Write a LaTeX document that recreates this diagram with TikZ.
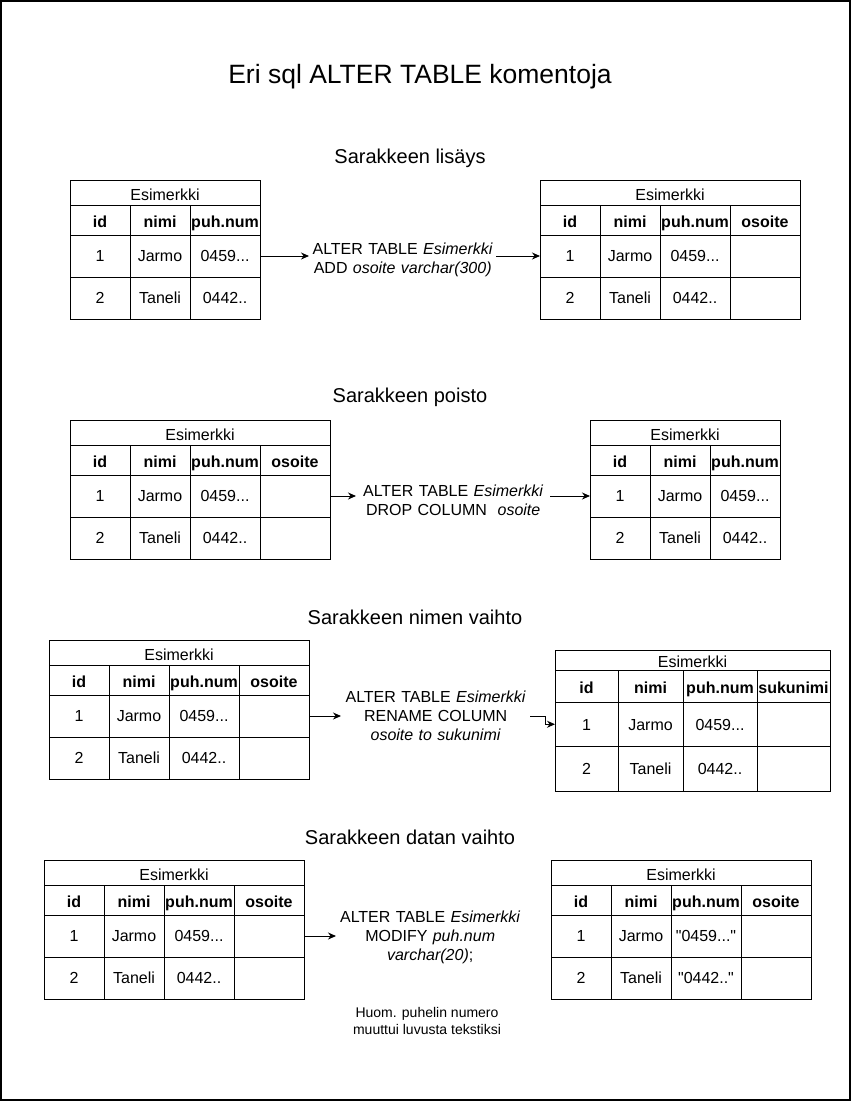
\documentclass[tikz,border=0pt]{standalone}
\usepackage{fontspec}
\setmainfont{Liberation Sans}
\usetikzlibrary{positioning,arrows.meta}

\newcommand{\numA}{0459...}
\newcommand{\numB}{0442..}
\newcommand{\txtA}{\textquotedbl 0459...\textquotedbl}
\newcommand{\txtB}{\textquotedbl 0442..\textquotedbl}

% #1 name, #2 x, #3 y, #4 title h, #5 head h, #6 row h, #7 columns w/head/row1/row2
\newcommand{\taulu}[7]{%
  \xdef\cx{#2}\xdef\tw{0}%
  \foreach \w/\h/\a/\b in {#7} {\pgfmathsetmacro\t{\tw+\w}\xdef\tw{\t}}%
  \node[nimio, minimum width=\tw pt, minimum height=#4 pt, anchor=north west] (#1-t) at (#2,#3) {Esimerkki};
  \foreach \w/\h/\a/\b [count=\i] in {#7} {
    \node[sarake, minimum width=\w pt, minimum height=#5 pt, anchor=north west] (#1-h\i) at (\cx,#3+#4) {\h};
    \node[solu, minimum width=\w pt, minimum height=#6 pt, anchor=north west] (#1-a\i) at (\cx,#3+#4+#5) {\a};
    \node[solu, minimum width=\w pt, minimum height=#6 pt, anchor=north west] (#1-b\i) at (\cx,#3+#4+#5+#6) {\b};
    \pgfmathsetmacro\t{\cx+\w}\xdef\cx{\t}
  }}

\begin{document}
\begin{tikzpicture}[x=1pt, y=-1pt,
    solu/.style={draw, line width=1pt, inner sep=0pt, outer sep=0pt,
      text height=11.5pt, text depth=0pt, font=\fontsize{16}{19.2}\selectfont},
    nimio/.style={solu, text height=15pt},
    sarake/.style={solu, text height=15pt, font=\fontsize{16}{19.2}\selectfont\bfseries},
    komento/.style={inner sep=0pt, align=center, font=\fontsize{16}{19.2}\selectfont},
    osio/.style={font=\fontsize{20}{24}\selectfont},
    huom/.style={align=center, font=\fontsize{14}{16.8}\selectfont},
    nuoli/.style={-{Stealth[length=8pt,width=7pt]}, line width=1pt}]

  \useasboundingbox (0,0) rectangle (851,1101);
  \draw[line width=2pt] (1,1) rectangle (850,1100);

  \node[font=\fontsize{26.5}{32}\selectfont] (otsikko) at (420,77) {Eri sql ALTER TABLE komentoja};

  % Sarakkeen lisays
  \node[osio] (S1) at (410,158) {Sarakkeen lisäys};
  \taulu{L1}{70}{180}{25}{30}{42}{60/id/1/2, 60/nimi/Jarmo/Taneli, 70/puh.num/\numA/\numB}
  \taulu{R1}{540}{180}{25}{30}{42}{60/id/1/2, 60/nimi/Jarmo/Taneli, 70/puh.num/\numA/\numB, 70/osoite/{}/{}}
  \node[komento, text width=187pt, right=49pt of L1-a3, yshift=-3.5pt] (K1)
    {ALTER TABLE \textit{Esimerkki}\\ADD \textit{osoite varchar(300)}};

  % Sarakkeen poisto
  \node[osio] (S2) at (410,397) {Sarakkeen poisto};
  \taulu{L2}{70}{420}{25}{30}{42}{60/id/1/2, 60/nimi/Jarmo/Taneli, 70/puh.num/\numA/\numB, 70/osoite/{}/{}}
  \taulu{R2}{590}{420}{25}{30}{42}{60/id/1/2, 60/nimi/Jarmo/Taneli, 70/puh.num/\numA/\numB}
  \node[komento, text width=194pt, right=26pt of L2-a4, yshift=-4.5pt] (K2)
    {ALTER TABLE \textit{Esimerkki}\\DROP COLUMN\ \ \textit{osoite}};

  % Sarakkeen nimen vaihto
  \node[osio] (S3) at (415,617) {Sarakkeen nimen vaihto};
  \taulu{L3}{49}{640}{25}{30}{42}{60/id/1/2, 60/nimi/Jarmo/Taneli, 70/puh.num/\numA/\numB, 70/osoite/{}/{}}
  \taulu{R3}{555}{650}{20}{32}{44.5}{63/id/1/2, 65/nimi/Jarmo/Taneli, 74/puh.num/\numA/\numB, 73/sukunimi/{}/{}}
  \node[komento, text width=189pt, right=32pt of L3-a4] (K3)
    {ALTER TABLE \textit{Esimerkki}\\RENAME COLUMN\\\textit{osoite to sukunimi}};

  % Sarakkeen datan vaihto
  \node[osio] (S4) at (410,837) {Sarakkeen datan vaihto};
  \taulu{L4}{44}{860}{25}{30}{42}{60/id/1/2, 60/nimi/Jarmo/Taneli, 70/puh.num/\numA/\numB, 70/osoite/{}/{}}
  \taulu{R4}{551}{860}{25}{30}{42}{60/id/1/2, 60/nimi/Jarmo/Taneli, 70/puh.num/\txtA/\txtB, 70/osoite/{}/{}}
  \node[komento, text width=188pt, right=32pt of L4-a4, yshift=-1.5pt] (K4)
    {ALTER TABLE \textit{Esimerkki}\\MODIFY \textit{puh.num}\\\textit{varchar(20)};};
  \node[huom] (H4) at (427,1021) {Huom. puhelin numero\\muuttui luvusta tekstiksi};

  \path[nuoli]
    (L1-a3.east) edge (L1-a3.east -| K1.west)
    (K1.east |- R1-a1) edge (R1-a1.west)
    (L2-a4.east) edge (L2-a4.east -| K2.west)
    (K2.east |- R2-a1) edge (R2-a1.west)
    (L3-a4.east) edge (K3.west)
    (L4-a4.east) edge (L4-a4.east -| K4.west);
  \draw[nuoli] (K3.east) -- ++(15,0) |- (R3-a1.west);
\end{tikzpicture}
\end{document}
